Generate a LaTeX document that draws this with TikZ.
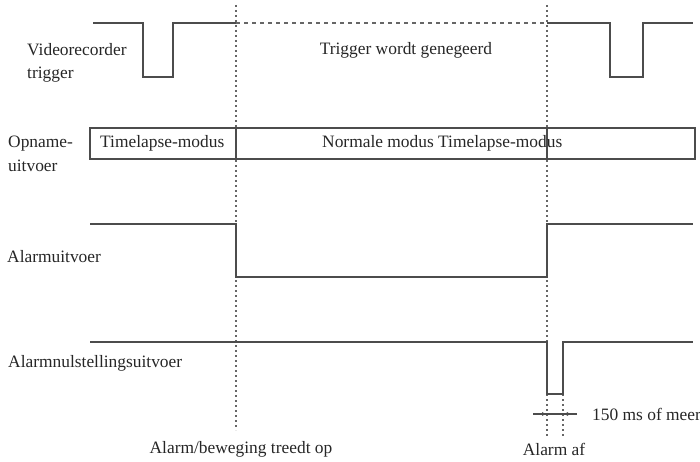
\documentclass[tikz,border=0pt]{standalone}
\usepackage{fontspec}
\setmainfont{Liberation Serif}
\usetikzlibrary{arrows.meta}
\begin{document}
\begin{tikzpicture}[x=1pt,y=-1pt,
  sig/.style={draw=black!70,line width=1.7pt},
  guide/.style={draw=black!60,line width=1.2pt,dash pattern=on 2pt off 3pt},
  hguide/.style={draw=black!60,line width=1.2pt,dash pattern=on 4pt off 4pt},
  dimline/.style={draw=black!70,line width=1.1pt},
  dim/.style={draw=black!70,line width=1.1pt,-{Latex[length=5pt,width=4pt]}},
  lbl/.style={font=\fontsize{17.4}{23.5}\selectfont,inner sep=0pt,text=black!85,align=left},
]
\useasboundingbox (0,0) rectangle (700,462);
% guide lines
\draw[guide] (236,5) -- (236,430);
\draw[guide] (547,5) -- (547,342);
\draw[guide] (547,394) -- (547,436);
\draw[guide] (563,394) -- (563,436);
\draw[hguide] (236,23) -- (547,23);
% trigger
\draw[sig] (93,23) -- (143,23) -- (143,77) -- (173,77) -- (173,23) -- (236,23);
\draw[sig] (547,23) -- (610,23) -- (610,77) -- (643,77) -- (643,23) -- (693,23);
% recording box
\draw[sig] (90,128) rectangle (695,159);
\draw[sig] (236,128) -- (236,159);
\draw[sig] (547,128) -- (547,159);
% alarm output
\draw[sig] (90,224) -- (236,224) -- (236,277) -- (547,277) -- (547,224) -- (693,224);
% alarm reset output
\draw[sig] (90,342) -- (547,342) -- (547,394) -- (563,394) -- (563,342) -- (693,342);
% dimension
\coordinate (dl) at (533,414);
\coordinate (dr) at (577,414);
\coordinate (el) at (547,414);
\coordinate (er) at (563,414);
\draw[dimline] (dl) -- (dr);
\draw[dim] (dl) -- (el);
\draw[dim] (dr) -- (er);
% labels
\node[lbl,anchor=west] (ltrig) at (27,63) {Videorecorder\\trigger};
\node[lbl,anchor=west] (lrec) at (8,154) {Opname-\\uitvoer};
\node[lbl,anchor=west] (lalarm) at (7,257) {Alarmuitvoer};
\node[lbl,anchor=west] (lreset) at (8,363) {Alarmnulstellingsuitvoer};
\node[lbl] (tign) at (406,50) {Trigger wordt genegeerd};
\node[lbl,anchor=west] (tl1) at (100,143) {Timelapse-modus};
\node[lbl,anchor=west] (tn) at (322,143) {Normale modus Timelapse-modus};
\node[lbl] (ton) at (241,449) {Alarm/beweging treedt op};
\node[lbl] (toff) at (554,449) {Alarm af};
\node[lbl,anchor=west] (tms) at (592,414) {150 ms of meer};
\end{tikzpicture}
\end{document}
